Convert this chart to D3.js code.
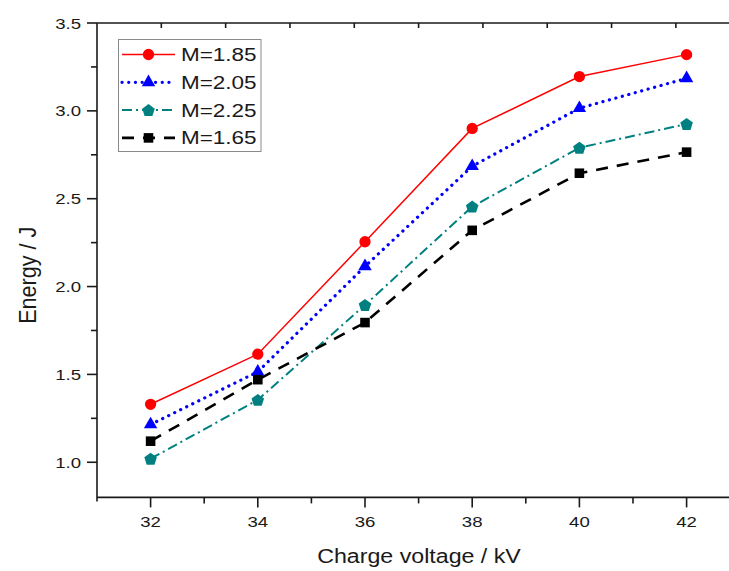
<!DOCTYPE html>
<html><head><meta charset="utf-8">
<script src="https://cdn.jsdelivr.net/npm/d3@7"></script>
<style>html,body{margin:0;padding:0;background:#fff;}svg{display:block;font-family:"Liberation Sans",Arial,sans-serif;}</style>
</head><body><div id="chart"></div>
<script>
const voltages = [32, 34, 36, 38, 40, 42];
const seriesNames = ["M=1.85", "M=2.05", "M=2.25", "M=1.65"];
const valuesM185 = [1.33, 1.615, 2.255, 2.90, 3.195, 3.32];
const valuesM205 = [1.215, 1.515, 2.115, 2.685, 3.015, 3.185];
const valuesM225 = [1.02, 1.355, 1.895, 2.455, 2.79, 2.925];
const valuesM165 = [1.12, 1.47, 1.795, 2.32, 2.645, 2.765];
const xMajorTicks = [32, 34, 36, 38, 40, 42];
const xMinorTicks = [33, 35, 37, 39, 41];
const yMajorTicks = [1.0, 1.5, 2.0, 2.5, 3.0, 3.5];
const yMinorTicks = [1.25, 1.75, 2.25, 2.75, 3.25];
const topTicks = [32.2, 33.4, 34.6, 35.8, 37.0, 38.2, 39.4, 40.6, 41.8];
const xTitle = "Charge voltage / kV";
const yTitle = "Energy / J";

const W = 729, H = 571;
const L = 97, R = 729, T = 23, B = 497.4;
const x = d3.scaleLinear().domain([31, 42]).range([L, L + 11 * 53.6]);
const y = d3.scaleLinear().domain([0.8, 3.5]).range([B, T]);

const svg = d3.select("#chart").append("svg").attr("width", W).attr("height", H);

const styles = [
  {color: "#ff0000", width: 1.5, dash: null, cap: "butt", marker: "circle"},
  {color: "#0000ff", width: 3.2, dash: "0.1 6.6", cap: "round", marker: "triangle"},
  {color: "#008080", width: 2, dash: "10 4 2 4", cap: "butt", marker: "pentagon"},
  {color: "#000000", width: 2.6, dash: "12 9", cap: "butt", marker: "square"}
];
const allValues = [valuesM185, valuesM205, valuesM225, valuesM165];

function pentagonPath(r) {
  const pts = d3.range(5).map(i => {
    const a = -Math.PI / 2 + i * 2 * Math.PI / 5;
    return [r * Math.cos(a), r * Math.sin(a) + 0.6];
  });
  return "M" + pts.map(p => p[0].toFixed(2) + "," + p[1].toFixed(2)).join("L") + "Z";
}
function markerPath(kind) {
  if (kind === "circle") return d3.symbol(d3.symbolCircle, 100)();
  if (kind === "triangle") return d3.symbol(d3.symbolTriangle, 78)();
  if (kind === "square") return d3.symbol(d3.symbolSquare, 92)();
  return pentagonPath(6.6);
}

// axes
const ax = svg.append("g").attr("stroke", "#1a1a1a").attr("stroke-width", 1.6);
ax.append("line").attr("x1", L).attr("x2", R).attr("y1", B).attr("y2", B);
ax.append("line").attr("x1", L).attr("x2", L).attr("y1", T).attr("y2", B + 4);
ax.append("line").attr("x1", L).attr("x2", R).attr("y1", T).attr("y2", T);
ax.selectAll(".xM").data(xMajorTicks).join("line").attr("x1", d => x(d)).attr("x2", d => x(d)).attr("y1", B).attr("y2", B + 10);
ax.selectAll(".xm").data(xMinorTicks).join("line").attr("x1", d => x(d)).attr("x2", d => x(d)).attr("y1", B).attr("y2", B + 6);
ax.selectAll(".yM").data(yMajorTicks).join("line").attr("y1", d => y(d)).attr("y2", d => y(d)).attr("x1", L - 10).attr("x2", L);
ax.selectAll(".ym").data(yMinorTicks).join("line").attr("y1", d => y(d)).attr("y2", d => y(d)).attr("x1", L - 6).attr("x2", L);
ax.selectAll(".tt").data(topTicks).join("line").attr("x1", d => x(d)).attr("x2", d => x(d)).attr("y1", T).attr("y2", T + 5);

const sx = 1.2;
function stretchedText(g, tx, ty, str, size, anchor, scale) {
  return g.append("text").attr("transform", `translate(${tx},${ty}) scale(${scale},1)`)
    .attr("text-anchor", anchor).attr("font-size", size).attr("fill", "#1a1a1a").text(str);
}
const lab = svg.append("g");
xMajorTicks.forEach(v => stretchedText(lab, x(v), 527, String(v), 15.5, "middle", sx));
yMajorTicks.forEach(v => stretchedText(lab, 81, y(v) + 5.6, v.toFixed(1), 15.5, "end", sx));
stretchedText(lab, (L + R) / 2 + 6, 563, xTitle, 20, "middle", 1.16);
lab.append("text").attr("transform", `translate(36,${(T + B) / 2 + 15}) rotate(-90) scale(1.08,1.16)`)
  .attr("text-anchor", "middle").attr("font-size", 20).attr("fill", "#1a1a1a").text(yTitle);

// series
const line = d3.line().x((d, i) => x(voltages[i])).y(d => y(d));
allValues.forEach((vals, k) => {
  const s = styles[k];
  svg.append("path").attr("d", line(vals)).attr("fill", "none").attr("stroke", s.color)
    .attr("stroke-width", s.width).attr("stroke-dasharray", s.dash).attr("stroke-linecap", s.cap);
});
allValues.forEach((vals, k) => {
  const s = styles[k];
  svg.append("g").selectAll("path").data(vals).join("path")
    .attr("d", markerPath(s.marker))
    .attr("transform", (d, i) => `translate(${x(voltages[i])},${y(d)})`)
    .attr("fill", s.color);
});

// legend
const lg = svg.append("g");
lg.append("rect").attr("x", 118.5).attr("y", 39.5).attr("width", 142.5).attr("height", 112)
  .attr("fill", "#fff").attr("stroke", "#8a8a8a").attr("stroke-width", 1);
seriesNames.forEach((name, k) => {
  const s = styles[k];
  const cy = 54.5 + k * 27.8;
  lg.append("line").attr("x1", 122).attr("x2", 175).attr("y1", cy).attr("y2", cy)
    .attr("stroke", s.color).attr("stroke-width", s.width).attr("stroke-dasharray", s.dash)
    .attr("stroke-linecap", s.cap);
  lg.append("path").attr("d", markerPath(s.marker)).attr("transform", `translate(148.5,${cy})`).attr("fill", s.color);
  stretchedText(lg, 181, cy + 6.4, name, 18, "start", 1.25);
});
</script></body></html>
